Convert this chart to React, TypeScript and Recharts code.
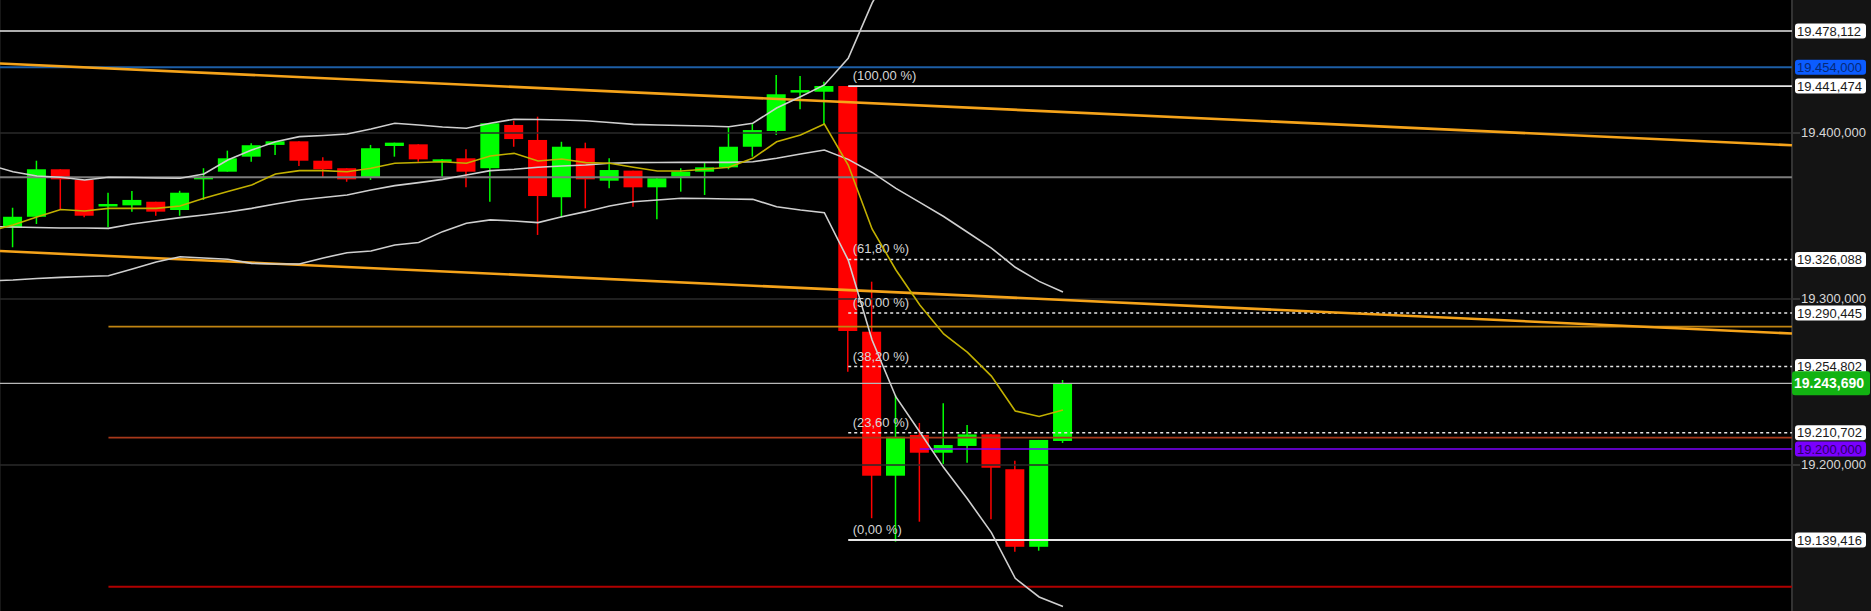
import React from 'react';
import { ComposedChart, Bar, Line, XAxis, YAxis, CartesianGrid, ReferenceLine } from 'recharts';

// ---- candle data (first slot is the bar just off the left edge, indicators only) ----
const OPEN = [null, 19347.2, 19354.5, 19386.1, 19379.0, 19361.7, 19362.1, 19364.5, 19359.0, 19379.4, 19384.5, 19394.5, 19402.3, 19404.7, 19391.8, 19386.8, 19380.5, 19401.6, 19402.7, 19391.6, 19393.4, 19386.8, 19415.6, 19405.6, 19367.5, 19400.1, 19378.5, 19385.2, 19374.1, 19381.2, 19384.5, 19387.4, 19401.1, 19411.6, 19438.2, 19437.7, 19441.5, 19278.0, 19182.2, 19209.3, 19197.5, 19202.0, 19209.7, 19186.5, 19134.9, 19205.3];
const HIGH = [null, 19360.5, 19391.8, 19386.1, 19379.0, 19370.5, 19371.6, 19364.5, 19371.8, 19386.8, 19398.5, 19403.4, 19404.7, 19404.7, 19394.1, 19386.8, 19402.3, 19403.8, 19402.7, 19392.9, 19399.4, 19416.7, 19418.4, 19421.1, 19404.4, 19403.8, 19393.4, 19385.2, 19380.1, 19386.8, 19390.5, 19414.0, 19416.2, 19448.8, 19448.2, 19444.4, 19441.5, 19311.3, 19235.9, 19217.3, 19230.4, 19215.9, 19209.7, 19192.2, 19206.0, 19245.9];
const LOW = [null, 19334.2, 19349.7, 19359.5, 19354.1, 19347.5, 19357.9, 19355.2, 19355.2, 19365.7, 19384.5, 19391.1, 19395.6, 19388.3, 19380.8, 19377.8, 19379.0, 19394.5, 19391.1, 19381.2, 19374.1, 19364.5, 19401.1, 19342.4, 19354.1, 19360.1, 19373.4, 19361.2, 19352.8, 19371.2, 19369.0, 19386.1, 19394.5, 19408.9, 19426.0, 19415.6, 19251.4, 19153.9, 19138.3, 19151.6, 19190.0, 19190.8, 19153.2, 19131.6, 19132.3, 19204.0];
const CLOSE = [null, 19354.5, 19386.1, 19379.4, 19355.2, 19363.0, 19365.7, 19357.9, 19370.5, 19381.2, 19393.4, 19402.1, 19404.7, 19391.8, 19386.1, 19379.4, 19400.1, 19403.8, 19392.7, 19392.7, 19384.5, 19416.7, 19406.2, 19368.3, 19401.1, 19379.4, 19385.6, 19374.1, 19380.1, 19384.5, 19387.4, 19401.1, 19412.2, 19436.0, 19438.8, 19441.5, 19278.5, 19182.2, 19208.1, 19197.5, 19202.6, 19209.7, 19187.5, 19134.9, 19206.0, 19243.7];

// ---- indicators ----
const BB_UPPER = [19389.0, 19384.5, 19381.6, 19380.8, 19379.0, 19380.8, 19380.6, 19380.3, 19380.1, 19383.0, 19392.3, 19398.9, 19404.4, 19407.8, 19408.6, 19409.6, 19412.9, 19416.7, 19415.6, 19414.2, 19413.4, 19416.7, 19419.4, 19419.2, 19418.9, 19418.4, 19417.2, 19416.0, 19415.6, 19415.2, 19414.9, 19414.4, 19416.7, 19426.9, 19434.4, 19442.2, 19460.0, 19496.7, 19525.0, null, null, null, null, null, null, null];
const BB_MID = [19347.9, 19347.7, 19347.4, 19347.0, 19347.0, 19346.8, 19349.7, 19351.9, 19353.9, 19355.7, 19357.7, 19360.1, 19363.0, 19365.7, 19367.3, 19369.0, 19372.3, 19375.2, 19377.2, 19379.4, 19382.3, 19385.2, 19386.1, 19387.4, 19388.3, 19388.9, 19390.1, 19390.5, 19390.6, 19390.7, 19390.7, 19390.7, 19391.1, 19393.4, 19396.3, 19398.9, 19392.7, 19384.0, 19373.4, 19364.1, 19354.7, 19344.2, 19333.7, 19320.9, 19311.5, 19304.4];
const BB_LOWER = [19311.8, 19312.4, 19313.4, 19314.2, 19314.8, 19315.3, 19319.7, 19324.4, 19327.9, 19327.1, 19326.2, 19323.5, 19323.1, 19323.1, 19327.1, 19330.6, 19331.7, 19335.7, 19337.4, 19344.6, 19350.2, 19352.4, 19351.7, 19350.6, 19354.5, 19357.9, 19361.7, 19364.5, 19365.7, 19366.8, 19366.7, 19366.3, 19366.1, 19361.2, 19359.0, 19357.2, 19325.7, 19272.5, 19234.6, 19211.3, 19187.6, 19166.7, 19144.3, 19113.9, 19101.5, 19095.2];
const MA_FAST = [19345.0, 19349.0, 19354.3, 19359.3, 19358.3, 19360.1, 19360.1, 19360.1, 19361.7, 19366.8, 19371.3, 19375.6, 19383.0, 19385.2, 19385.2, 19384.5, 19386.8, 19390.1, 19390.6, 19391.1, 19390.1, 19394.9, 19396.7, 19391.6, 19392.9, 19390.5, 19390.1, 19387.4, 19385.0, 19385.0, 19386.1, 19387.4, 19393.4, 19404.4, 19408.9, 19416.2, 19388.9, 19346.4, 19319.1, 19295.8, 19276.5, 19264.2, 19248.5, 19225.3, 19221.6, 19225.9];

// ---- levels ----
const LEVELS = [19478.112, 19454.0, 19441.474, 19326.088, 19290.445, 19254.802, 19210.702, 19200.0, 19139.416, 19243.69];
const FIB_LEVELS = [19441.474, 19326.088, 19290.445, 19254.802, 19210.702, 19139.416];
const FIB_LABELS = ['(100,00 %)', '(61,80 %)', '(50,00 %)', '(38,20 %)', '(23,60 %)', '(0,00 %)'];
const FIB_START = 35;
const GREY_LEVEL = 19380.8;
const LAST_PRICE = 19243.69;
const TOP_LEVEL = 19478.112;
const BLUE_LEVEL = 19454.0;
const PURPLE_LEVEL = 19200.0;
const PURPLE_START = 38;
const SR_LEVELS = [19281.4, 19207.6, 19108.3];
const SR_START = 4;
const TREND_UPPER = [19456.5, 19402.1];
const TREND_LOWER = [19331.7, 19276.8];
const GRID_TICKS = [19200, 19300, 19400];
const GRID_X = [0, 2, 4, 6, 8, 10, 12, 14, 16, 18, 20, 22, 24, 26, 28, 30, 32, 34, 36, 38, 40, 42, 44, 46, 48, 50, 52, 54, 56, 58, 60, 62, 64, 66, 68, 70, 72, 74];

// ---- axis config ----
const X_MIN = -0.545;
const X_MAX = 74.55;
const PRICE_DOMAIN: [number, number] = [19092.17, 19498.74];
const GRID_DOMAIN: [number, number] = [19112.05, 19480.12];

// ---- styles ----
const W = 1871;
const H = 611;
const AXIS_W = 79;
const PLOT_R = W - AXIS_W;
const FONT = 'Liberation Sans, Arial, Helvetica, sans-serif';
const SR_COLORS = ['#c08412', '#a8381a', '#b00000'];
const FIB_DASH = [false, true, true, true, true, false];
const LEVEL_STYLE: Record<number, { bg: string; fg: string; big?: boolean }> = {
  0: { bg: '#ffffff', fg: '#1a1a1a' },
  1: { bg: '#0b5cff', fg: '#062a78' },
  2: { bg: '#ffffff', fg: '#1a1a1a' },
  3: { bg: '#ffffff', fg: '#1a1a1a' },
  4: { bg: '#ffffff', fg: '#1a1a1a' },
  5: { bg: '#ffffff', fg: '#1a1a1a' },
  6: { bg: '#ffffff', fg: '#1a1a1a' },
  7: { bg: '#7a00ff', fg: '#2c0066' },
  8: { bg: '#ffffff', fg: '#1a1a1a' },
  9: { bg: '#12b312', fg: '#ffffff', big: true },
};

const fmt = (v: number) => {
  const s = v.toFixed(3);
  const [a, b] = s.split('.');
  return a.replace(/\B(?=(\d{3})+(?!\d))/g, '.') + ',' + b;
};

const data = OPEN.map((o, k) => ({
  i: k - 1,
  open: o,
  high: HIGH[k],
  low: LOW[k],
  close: CLOSE[k],
  range: o == null ? null : [LOW[k], HIGH[k]],
  bbU: BB_UPPER[k],
  bbM: BB_MID[k],
  bbL: BB_LOWER[k],
  ma: MA_FAST[k],
}));

const Candle = (props: any) => {
  const { x, y, width, height, payload } = props;
  if (x == null || y == null || !payload || payload.open == null) return null;
  const { open, close, high, low } = payload;
  const cx = x + width / 2;
  const k = high - low === 0 ? 0 : height / (high - low);
  const yOf = (v: number) => y + (high - v) * k;
  const top = yOf(Math.max(open, close));
  const bot = yOf(Math.min(open, close));
  const color = close >= open ? '#00ff00' : '#ff0000';
  return (
    <g>
      <line x1={cx} x2={cx} y1={y} y2={y + height} stroke={color} strokeWidth={1.5} />
      <rect x={cx - 9.5} y={top} width={19} height={Math.max(bot - top, 2.5)} fill={color} />
    </g>
  );
};

const BoxTick = (props: any) => {
  const { y, payload } = props;
  const idx = LEVELS.indexOf(payload.value);
  const st = LEVEL_STYLE[idx] || LEVEL_STYLE[0];
  if (st.big) {
    return (
      <g>
        <rect x={PLOT_R} y={y - 12} width={78} height={24} rx={3} fill={st.bg} />
        <text x={PLOT_R + 2} y={y + 5} fontSize={14} fontWeight="bold" fill={st.fg} fontFamily={FONT}>
          {fmt(payload.value)}
        </text>
      </g>
    );
  }
  return (
    <g>
      <rect x={PLOT_R + 3} y={y - 7.5} width={71} height={15} rx={3} fill={st.bg} />
      <text x={PLOT_R + 5} y={y + 4.6} fontSize={13} fill={st.fg} fontFamily={FONT}>
        {fmt(payload.value)}
      </text>
    </g>
  );
};

const gridLabel = (value: number) => (p: any) => {
  const vb = p.viewBox || {};
  const y = vb.y ?? 0;
  return (
    <g>
      <line x1={PLOT_R} x2={PLOT_R + 8} y1={y} y2={y} stroke="#555" strokeWidth={1} />
      <text x={PLOT_R + 9} y={y + 3.5} fontSize={13} fill="#d8d8d8" fontFamily={FONT}>
        {fmt(value)}
      </text>
    </g>
  );
};

export default function App() {
  return (
    <div style={{ width: W, height: H, background: '#141414', position: 'absolute', left: 0, top: 0 }}>
      <style>{`body{margin:0;background:#000;}`}</style>
      <ComposedChart width={W} height={H} data={data} margin={{ top: 0, right: 0, bottom: 0, left: 0 }}>
        <CartesianGrid vertical horizontal={false} stroke="#2e2e2e" strokeWidth={1} fill="#000" fillOpacity={1} />
        <XAxis
          dataKey="i"
          type="number"
          domain={[X_MIN, X_MAX]}
          allowDataOverflow
          ticks={GRID_X}
          interval={0}
          height={0}
          tick={false}
          axisLine={false}
          tickLine={false}
        />
        <YAxis
          yAxisId="grid"
          orientation="left"
          width={0}
          type="number"
          domain={GRID_DOMAIN}
          allowDataOverflow
          ticks={GRID_TICKS}
          tick={false}
          axisLine={false}
          tickLine={false}
        />
        <YAxis
          orientation="right"
          width={AXIS_W}
          type="number"
          domain={PRICE_DOMAIN}
          allowDataOverflow
          ticks={LEVELS}
          interval={0}
          tick={<BoxTick />}
          axisLine={false}
          tickLine={false}
        />
        {GRID_TICKS.map((v) => (
          <ReferenceLine
            key={'g' + v}
            yAxisId="grid"
            y={v}
            stroke="#2a2a2a"
            strokeWidth={1.5}
            label={gridLabel(v)}
          />
        ))}
        <ReferenceLine x={X_MAX} stroke="#333" strokeWidth={2} />

        <Bar dataKey="range" barSize={19} shape={<Candle />} isAnimationActive={false} activeBar={false} />

        <ReferenceLine y={TOP_LEVEL} stroke="#e8e8e8" strokeWidth={1.6} />
        <ReferenceLine y={BLUE_LEVEL} stroke="#1d5ea6" strokeWidth={2} />
        <ReferenceLine y={GREY_LEVEL} stroke="#7c7c7c" strokeWidth={2} />
        <ReferenceLine y={LAST_PRICE} stroke="#b8b8b8" strokeWidth={1.2} />
        {SR_LEVELS.map((v, k) => (
          <ReferenceLine
            key={'sr' + k}
            segment={[{ x: SR_START, y: v }, { x: X_MAX, y: v }]}
            stroke={SR_COLORS[k]}
            strokeWidth={1.8}
          />
        ))}
        <ReferenceLine
          segment={[{ x: PURPLE_START, y: PURPLE_LEVEL }, { x: X_MAX, y: PURPLE_LEVEL }]}
          stroke="#7d00ff"
          strokeWidth={1.6}
        />
        {FIB_LEVELS.map((v, k) => (
          <ReferenceLine
            key={'fib' + k}
            segment={[{ x: FIB_START, y: v }, { x: X_MAX, y: v }]}
            stroke="#e6e6e6"
            strokeWidth={FIB_DASH[k] ? 1.5 : 1.8}
            strokeDasharray={FIB_DASH[k] ? '3 3' : undefined}
            label={(p: any) => {
              const vb = p.viewBox || {};
              return (
                <text x={(vb.x ?? 0) + 4.5} y={(vb.y ?? 0) - 6} fontSize={13} fill="#d6d6d6" fontFamily={FONT}>
                  {FIB_LABELS[k]}
                </text>
              );
            }}
          />
        ))}
        <ReferenceLine
          segment={[{ x: X_MIN, y: TREND_UPPER[0] }, { x: X_MAX, y: TREND_UPPER[1] }]}
          stroke="#f5a31a"
          strokeWidth={2.6}
        />
        <ReferenceLine
          segment={[{ x: X_MIN, y: TREND_LOWER[0] }, { x: X_MAX, y: TREND_LOWER[1] }]}
          stroke="#f5a31a"
          strokeWidth={2.6}
        />

        <Line dataKey="bbU" type="linear" stroke="#cfcfcf" strokeWidth={1.6} dot={false} activeDot={false} isAnimationActive={false} connectNulls={false} />
        <Line dataKey="bbM" type="linear" stroke="#cfcfcf" strokeWidth={1.6} dot={false} activeDot={false} isAnimationActive={false} />
        <Line dataKey="bbL" type="linear" stroke="#cfcfcf" strokeWidth={1.6} dot={false} activeDot={false} isAnimationActive={false} />
        <Line dataKey="ma" type="linear" stroke="#c2b000" strokeWidth={1.6} dot={false} activeDot={false} isAnimationActive={false} />
      </ComposedChart>
    </div>
  );
}
